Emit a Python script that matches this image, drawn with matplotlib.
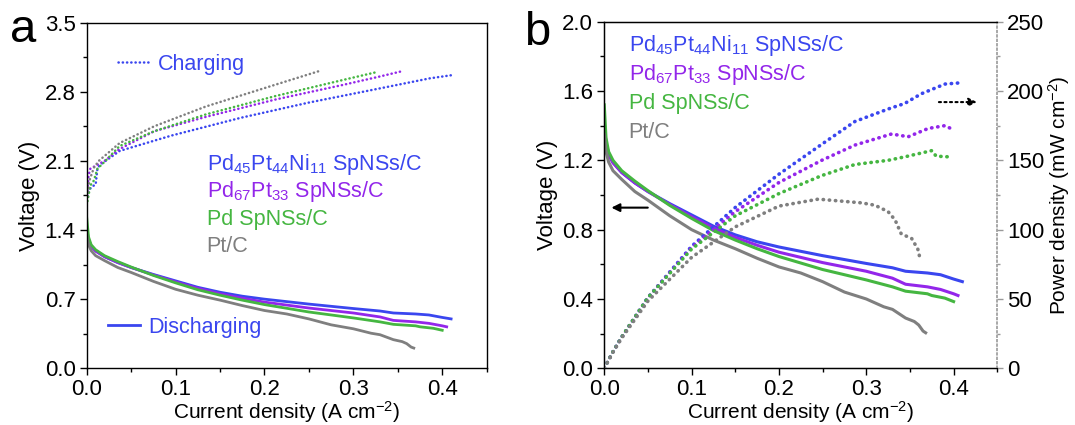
import matplotlib.pyplot as plt
from matplotlib.lines import Line2D
from matplotlib.ticker import MultipleLocator

plt.rcParams['font.family'] = ['Liberation Sans', 'DejaVu Sans']
plt.rcParams['mathtext.fontset'] = 'custom'
plt.rcParams['mathtext.rm'] = 'Liberation Sans'
plt.rcParams['mathtext.default'] = 'regular'

# colours
c_ni = '#3a46ef'
c_pt = '#9326ea'
c_pd = '#45b641'
c_c = '#7f7f7f'

names = [r'Pd$_{45}$Pt$_{44}$Ni$_{11}$ SpNSs/C', r'Pd$_{67}$Pt$_{33}$ SpNSs/C',
         'Pd SpNSs/C', 'Pt/C']

# discharge polarisation curves (A cm-2, V)
dis_x_ni = [0, 0.002, 0.005, 0.01, 0.02, 0.035, 0.05, 0.075, 0.1, 0.125, 0.15, 0.175,
            0.2, 0.25, 0.3, 0.33, 0.345, 0.37, 0.385, 0.4, 0.41]
dis_v_ni = [1.42, 1.30, 1.24, 1.19, 1.13, 1.07, 1.02, 0.95, 0.885, 0.82, 0.77, 0.73,
            0.70, 0.65, 0.605, 0.58, 0.56, 0.55, 0.54, 0.515, 0.50]
dis_x_pt = [0, 0.002, 0.005, 0.01, 0.02, 0.035, 0.05, 0.075, 0.1, 0.125, 0.15, 0.175,
            0.2, 0.25, 0.3, 0.33, 0.345, 0.37, 0.385, 0.4, 0.405]
dis_v_pt = [1.40, 1.29, 1.23, 1.185, 1.13, 1.07, 1.02, 0.945, 0.875, 0.81, 0.755, 0.71,
            0.67, 0.61, 0.56, 0.52, 0.485, 0.47, 0.455, 0.43, 0.42]
dis_x_pd = [0, 0.002, 0.005, 0.01, 0.02, 0.035, 0.05, 0.075, 0.1, 0.125, 0.15, 0.175,
            0.2, 0.25, 0.3, 0.33, 0.345, 0.37, 0.375, 0.39, 0.4]
dis_v_pd = [1.52, 1.33, 1.25, 1.20, 1.14, 1.08, 1.025, 0.94, 0.865, 0.795, 0.74, 0.69,
            0.645, 0.57, 0.51, 0.47, 0.445, 0.43, 0.42, 0.405, 0.385]
dis_x_c = [0, 0.002, 0.005, 0.01, 0.02, 0.035, 0.05, 0.075, 0.1, 0.125, 0.15, 0.175,
           0.2, 0.225, 0.25, 0.275, 0.3, 0.32, 0.33, 0.345, 0.355, 0.36, 0.365, 0.368]
dis_v_c = [1.35, 1.25, 1.19, 1.14, 1.09, 1.02, 0.97, 0.88, 0.80, 0.74, 0.69, 0.635,
           0.585, 0.55, 0.50, 0.44, 0.40, 0.355, 0.34, 0.29, 0.27, 0.25, 0.215, 0.205]

# charge curves (panel a)
chg_x_ni = [0, 0.002, 0.006, 0.010, 0.012, 0.015, 0.037, 0.095, 0.173, 0.25, 0.328, 0.386, 0.413]
chg_v_ni = [1.70, 1.80, 1.84, 1.86, 2.02, 2.06, 2.20, 2.355, 2.535, 2.69, 2.83, 2.935, 2.97]
chg_x_pt = [0, 0.002, 0.004, 0.01, 0.02, 0.037, 0.076, 0.134, 0.212, 0.289, 0.328, 0.356]
chg_v_pt = [1.72, 1.95, 2.02, 2.05, 2.10, 2.22, 2.40, 2.545, 2.72, 2.87, 2.95, 3.01]
chg_x_pd = [0, 0.004, 0.008, 0.012, 0.02, 0.037, 0.076, 0.134, 0.212, 0.289, 0.327]
chg_v_pd = [1.65, 1.85, 1.90, 2.02, 2.09, 2.25, 2.40, 2.57, 2.755, 2.92, 3.00]
chg_x_c = [0, 0.003, 0.008, 0.0136, 0.037, 0.076, 0.134, 0.212, 0.262]
chg_v_c = [1.70, 1.90, 2.03, 2.10, 2.28, 2.45, 2.65, 2.87, 3.01]

# power density (mW cm-2, panel b)
pw_x_ni = [0, 0.01, 0.02, 0.05, 0.1, 0.15, 0.2, 0.25, 0.287, 0.325, 0.344, 0.363, 0.39, 0.41]
pw_p_ni = [0, 12, 22.5, 51, 88, 116, 140, 162, 178, 187, 191, 198, 205, 206]
pw_x_pt = [0, 0.01, 0.02, 0.05, 0.1, 0.15, 0.2, 0.249, 0.287, 0.329, 0.348, 0.371, 0.39, 0.4]
pw_p_pt = [0, 12, 22.5, 51, 87, 113, 134, 150, 161, 169, 167, 173, 175, 172]
pw_x_pd = [0, 0.01, 0.02, 0.05, 0.1, 0.15, 0.2, 0.249, 0.287, 0.325, 0.344, 0.375, 0.38, 0.395]
pw_p_pd = [0, 12, 22.6, 51, 86, 110, 126, 139, 147, 150, 152.5, 157, 153, 152.5]
pw_x_c = [0, 0.01, 0.02, 0.05, 0.1, 0.15, 0.2, 0.245, 0.295, 0.31, 0.325, 0.333, 0.34,
          0.352, 0.359, 0.362]
pw_p_c = [0, 11.5, 21.8, 48.5, 80, 102, 117, 122, 119.3, 117.6, 113, 107, 97, 93.6, 86, 78]

colors = [c_ni, c_pt, c_pd, c_c]
dis = [(dis_x_ni, dis_v_ni), (dis_x_pt, dis_v_pt), (dis_x_pd, dis_v_pd), (dis_x_c, dis_v_c)]
chg = [(chg_x_ni, chg_v_ni), (chg_x_pt, chg_v_pt), (chg_x_pd, chg_v_pd), (chg_x_c, chg_v_c)]
pw = [(pw_x_ni, pw_p_ni), (pw_x_pt, pw_p_pt), (pw_x_pd, pw_p_pd), (pw_x_c, pw_p_c)]

fs_tick = 16
fs_xlab = 15
fs_ylab = 16
fs_txt = 15.5
dots = (0, (0.1, 1.6))

fig = plt.figure(figsize=(10.75, 4.25), dpi=100)
axa = fig.add_axes([0.0807, 0.1334, 0.372, 0.8136])
axb = fig.add_axes([0.5621, 0.1334, 0.3656, 0.8156])


def style(ax, ymax, ymaj):
    ax.set_xlim(0, 0.45)
    ax.set_ylim(0, ymax)
    ax.xaxis.set_major_locator(MultipleLocator(0.1))
    ax.xaxis.set_minor_locator(MultipleLocator(0.05))
    ax.yaxis.set_major_locator(MultipleLocator(ymaj))
    ax.yaxis.set_minor_locator(MultipleLocator(ymaj / 2))
    ax.tick_params(which='major', length=5, width=1, labelsize=fs_tick, direction='out', pad=3)
    ax.tick_params(which='minor', length=3, width=1, direction='out')
    ax.set_xlabel(r'Current density (A cm$^{-2}$)', fontsize=fs_xlab, labelpad=-1)
    ax.set_ylabel('Voltage (V)', fontsize=fs_ylab, labelpad=3)
    for s in ax.spines.values():
        s.set_linewidth(1)


# panel a
for (x, v), c in zip(chg, colors):
    axa.plot(x, v, color=c, lw=1.8, ls=dots, dash_capstyle='round')
for (x, v), c in zip(dis, colors):
    axa.plot(x, v, color=c, lw=2)
style(axa, 3.5, 0.7)
axa.yaxis.set_major_formatter(lambda v, p: f'{v:.1f}')
axa.xaxis.set_major_formatter(lambda v, p: f'{v:.1f}')

ya = [2.008, 1.73, 1.452, 1.173]
for n, c, y in zip(names, colors, ya):
    axa.text(0.135, y, n, color=c, fontsize=fs_txt, va='baseline')

lg1 = axa.legend(handles=[Line2D([], [], color=c_ni, lw=1.8, ls=dots, dash_capstyle='round')],
                 labels=['Charging'], loc='center left', bbox_to_anchor=(0.078, 0.88),
                 frameon=False, fontsize=fs_txt, handlelength=1.5, handletextpad=0.35,
                 borderpad=0, borderaxespad=0, labelcolor=c_ni)
axa.add_artist(lg1)
axa.legend(handles=[Line2D([], [], color=c_ni, lw=2)], labels=['Discharging'],
           loc='center left', bbox_to_anchor=(0.053, 0.1186), frameon=False, fontsize=fs_txt,
           handlelength=1.5, handletextpad=0.35, borderpad=0, borderaxespad=0,
           labelcolor=c_ni)

# panel b
for (x, v), c in zip(dis, colors):
    axb.plot(x, v, color=c, lw=2.2)
style(axb, 2.0, 0.4)
axb.yaxis.set_major_formatter(lambda v, p: f'{v:.1f}')
axb.xaxis.set_major_formatter(lambda v, p: f'{v:.1f}')

axb2 = axb.twinx()
for (x, p), c in zip(pw, colors):
    axb2.plot(x, p, color=c, lw=2.6, ls=dots, dash_capstyle='round')
axb2.set_ylim(0, 250)
axb2.yaxis.set_major_locator(MultipleLocator(50))
axb2.yaxis.set_minor_locator(MultipleLocator(25))
axb2.tick_params(which='major', length=4, width=1, labelsize=fs_tick, color='#999999', pad=3)
axb2.tick_params(which='minor', length=2, width=1, color='#999999')
axb2.spines['right'].set_linestyle(':')
axb2.spines['right'].set_color('#999999')
axb2.spines['right'].set_linewidth(1.2)
axb.spines['right'].set_visible(False)
axb2.set_ylabel(r'Power density (mW cm$^{-2}$)', fontsize=15, labelpad=1)

yb = [1.831, 1.663, 1.496, 1.33]
for n, c, y in zip(names, colors, yb):
    axb.text(0.028, y, n, color=c, fontsize=fs_txt, va='baseline')

axb.annotate('', xy=(0.005, 0.927), xytext=(0.053, 0.927),
             arrowprops=dict(arrowstyle='-|>', color='black', lw=1.5, mutation_scale=12))
axb2.annotate('', xy=(0.43, 192), xytext=(0.38, 192),
              arrowprops=dict(arrowstyle='-|>', color='black', lw=1.5, ls=':',
                              mutation_scale=12))

fig.text(10 / 1075, 1 - 42 / 425, 'a', fontsize=34, va='baseline')
fig.text(524 / 1075, 1 - 45 / 425, 'b', fontsize=34, va='baseline')

fig.savefig('out.png', dpi=100)
